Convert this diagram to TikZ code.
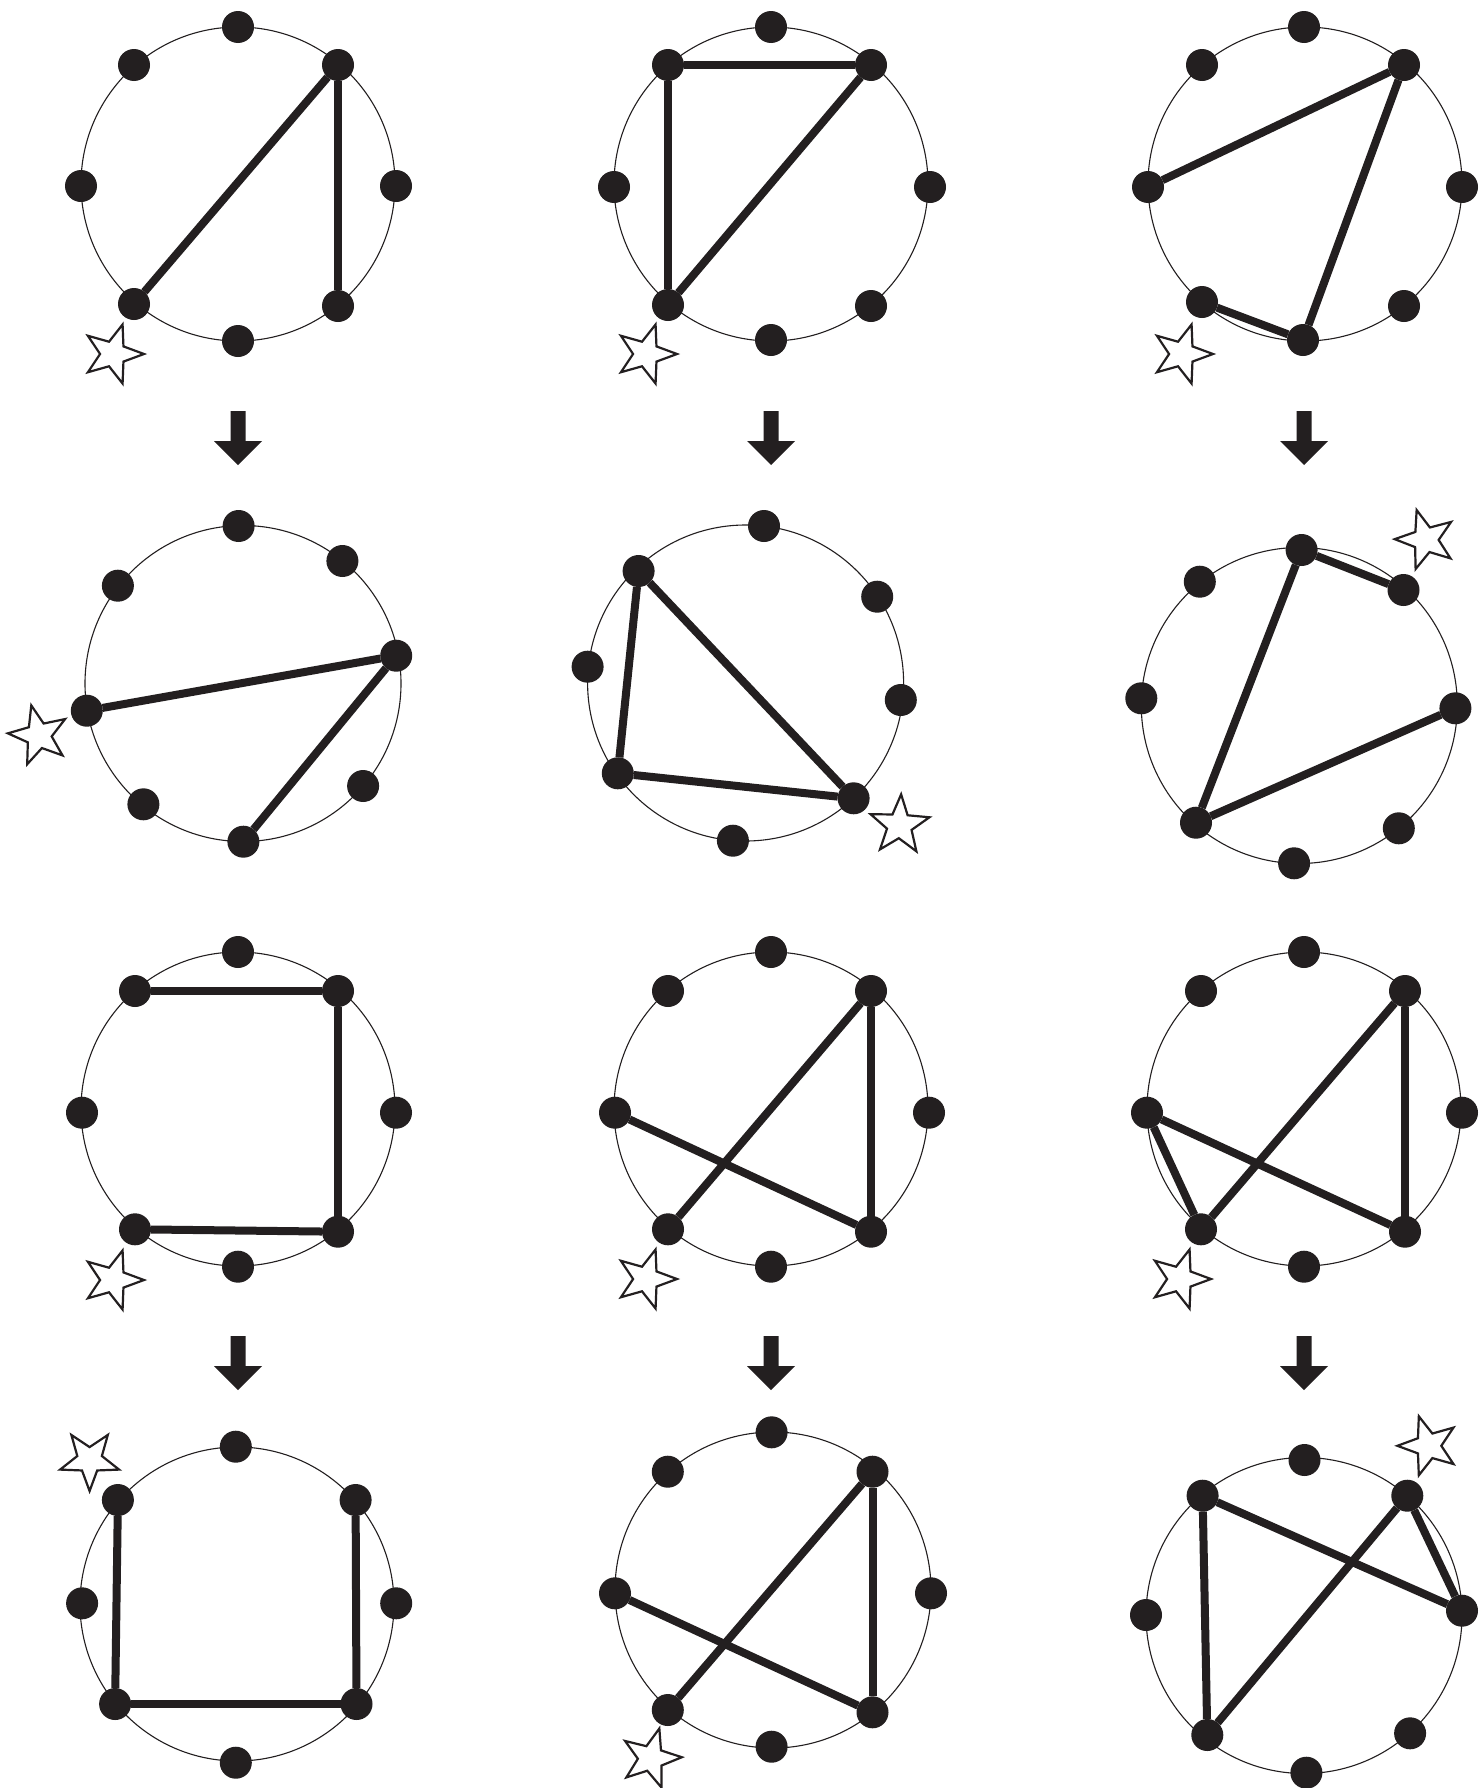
\documentclass[tikz,border=0pt]{standalone}
\usetikzlibrary{shapes.geometric}
\definecolor{ink}{HTML}{231F20}
\tikzset{
  dot/.style={circle, fill=ink, draw=none, minimum size=32pt, inner sep=0pt, outer sep=0pt},
  ringline/.style={draw=ink, line width=1.1pt},
  edgeline/.style={draw=ink, line width=8pt},
  starmark/.style={star, star points=5, star point ratio=2.4, minimum size=62pt, inner sep=0pt, draw=ink, line width=2.2pt, fill=white},
}
\newcommand\blockdown[2]{\fill[ink] (#1-7.5,#2) -- (#1+7.5,#2) -- (#1+7.5,#2+30) -- (#1+24,#2+30) -- (#1,#2+54) -- (#1-24,#2+30) -- (#1-7.5,#2+30) -- cycle;}
\begin{document}
\begin{tikzpicture}[x=1pt,y=-1pt]
\useasboundingbox (0,0) rectangle (1479,1788);
\fill[white] (0,0) rectangle (1479,1788);

% ---------- Row 1, col 1
\draw[ringline] (238,184) circle[radius=157];
\node[dot] (a-t) at (238,27) {};
\node[dot] (a-tl) at (134,65) {};
\node[dot] (a-tr) at (338,65) {};
\node[dot] (a-l) at (81,186) {};
\node[dot] (a-r) at (396,186) {};
\node[dot] (a-bl) at (134,304) {};
\node[dot] (a-br) at (338,306) {};
\node[dot] (a-b) at (238,341) {};
\draw[edgeline] (a-tr) -- (a-bl);
\draw[edgeline] (a-tr) -- (a-br);
\node[starmark, shape border rotate=-18] (a-s) at (113,354) {};

% ---------- Row 1, col 2
\draw[ringline] (771,184) circle[radius=157];
\node[dot] (b-t) at (771,27) {};
\node[dot] (b-tl) at (668,65) {};
\node[dot] (b-tr) at (871,65) {};
\node[dot] (b-l) at (614,187) {};
\node[dot] (b-r) at (930,187) {};
\node[dot] (b-bl) at (668,305) {};
\node[dot] (b-br) at (871,306) {};
\node[dot] (b-b) at (771,340) {};
\draw[edgeline] (b-tl) -- (b-tr);
\draw[edgeline] (b-tl) -- (b-bl);
\draw[edgeline] (b-tr) -- (b-bl);
\node[starmark, shape border rotate=-18] (b-s) at (646,354) {};

% ---------- Row 1, col 3
\draw[ringline] (1305,184) circle[radius=157];
\node[dot] (c-t) at (1304,27) {};
\node[dot] (c-tl) at (1202,65) {};
\node[dot] (c-tr) at (1404,65) {};
\node[dot] (c-l) at (1148,187) {};
\node[dot] (c-r) at (1462,187) {};
\node[dot] (c-bl) at (1202,302) {};
\node[dot] (c-br) at (1404,306) {};
\node[dot] (c-b) at (1303,340) {};
\draw[edgeline] (c-tr) -- (c-l);
\draw[edgeline] (c-tr) -- (c-b);
\draw[edgeline] (c-bl) -- (c-b);
\node[starmark, shape border rotate=-18] (c-s) at (1182,354) {};

% ---------- arrows row 1
\blockdown{238}{411}
\blockdown{771}{411}
\blockdown{1304}{411}

% ---------- Row 2, col 1
\draw[ringline] (243,683.5) circle[radius=158];
\node[dot] (d-t) at (238.6,526) {};
\node[dot] (d-tr) at (342.4,561) {};
\node[dot] (d-tl) at (117.9,585.7) {};
\node[dot] (d-r) at (396.2,655.7) {};
\node[dot] (d-l) at (86.8,710.7) {};
\node[dot] (d-br) at (363.1,786) {};
\node[dot] (d-bl) at (143.4,804.3) {};
\node[dot] (d-b) at (243.4,841.7) {};
\draw[edgeline] (d-l) -- (d-r);
\draw[edgeline] (d-r) -- (d-b);
\node[starmark, shape border rotate=14] (d-s) at (38.8,735.5) {};

% ---------- Row 2, col 2
\draw[ringline] (745.6,683) circle[radius=158];
\node[dot] (e-t) at (764,526) {};
\node[dot] (e-tl) at (638.6,571) {};
\node[dot] (e-tr) at (877.2,596.7) {};
\node[dot] (e-l) at (587.6,666.7) {};
\node[dot] (e-r) at (900.8,700) {};
\node[dot] (e-bl) at (617.8,773.3) {};
\node[dot] (e-br) at (853.6,798.3) {};
\node[dot] (e-b) at (732.9,840.7) {};
\draw[edgeline] (e-tl) -- (e-bl);
\draw[edgeline] (e-tl) -- (e-br);
\draw[edgeline] (e-bl) -- (e-br);
\node[starmark, shape border rotate=-3] (e-s) at (899.5,825.3) {};

% ---------- Row 2, col 3
\draw[ringline] (1299.3,705.5) circle[radius=158];
\node[dot] (f-t) at (1301.6,550) {};
\node[dot] (f-tr) at (1403.5,590) {};
\node[dot] (f-tl) at (1199.8,581.7) {};
\node[dot] (f-l) at (1141.3,698.3) {};
\node[dot] (f-r) at (1455.4,708.3) {};
\node[dot] (f-bl) at (1196,822.7) {};
\node[dot] (f-br) at (1398.8,828.3) {};
\node[dot] (f-b) at (1294.1,863.3) {};
\draw[edgeline] (f-t) -- (f-tr);
\draw[edgeline] (f-t) -- (f-bl);
\draw[edgeline] (f-bl) -- (f-r);
\node[starmark, shape border rotate=17] (f-s) at (1425.7,539.7) {};

% ---------- Row 3, col 1
\draw[ringline] (238,1109) circle[radius=157];
\node[dot] (g-t) at (238,952) {};
\node[dot] (g-tl) at (135,991) {};
\node[dot] (g-tr) at (338,991) {};
\node[dot] (g-l) at (82,1112.7) {};
\node[dot] (g-r) at (396,1112.7) {};
\node[dot] (g-bl) at (135,1229.3) {};
\node[dot] (g-br) at (338,1231.7) {};
\node[dot] (g-b) at (238,1266.7) {};
\draw[edgeline] (g-tl) -- (g-tr);
\draw[edgeline] (g-tr) -- (g-br);
\draw[edgeline] (g-bl) -- (g-br);
\node[starmark, shape border rotate=-18] (g-s) at (113,1280) {};

% ---------- Row 3, col 2
\draw[ringline] (771,1109) circle[radius=157];
\node[dot] (h-t) at (771,952) {};
\node[dot] (h-tl) at (668,991) {};
\node[dot] (h-tr) at (871,991) {};
\node[dot] (h-l) at (615,1112.7) {};
\node[dot] (h-r) at (929,1112.7) {};
\node[dot] (h-bl) at (668,1229.3) {};
\node[dot] (h-br) at (871,1231.7) {};
\node[dot] (h-b) at (771,1266.7) {};
\draw[edgeline] (h-tr) -- (h-bl);
\draw[edgeline] (h-tr) -- (h-br);
\draw[edgeline] (h-l) -- (h-br);
\node[starmark, shape border rotate=-18] (h-s) at (646,1279) {};

% ---------- Row 3, col 3
\draw[ringline] (1304,1109) circle[radius=157];
\node[dot] (i-t) at (1304,952) {};
\node[dot] (i-tl) at (1201,991) {};
\node[dot] (i-tr) at (1405,991) {};
\node[dot] (i-l) at (1147,1112.7) {};
\node[dot] (i-r) at (1462,1112.7) {};
\node[dot] (i-bl) at (1201,1229.3) {};
\node[dot] (i-br) at (1405,1231.7) {};
\node[dot] (i-b) at (1304,1266.7) {};
\draw[edgeline] (i-tr) -- (i-bl);
\draw[edgeline] (i-tr) -- (i-br);
\draw[edgeline] (i-l) -- (i-br);
\draw[edgeline] (i-l) -- (i-bl);
\node[starmark, shape border rotate=-18] (i-s) at (1180,1279) {};

% ---------- arrows row 3
\blockdown{238}{1336}
\blockdown{771}{1336}
\blockdown{1304}{1336}

% ---------- Row 4, col 1
\draw[ringline] (237,1604) circle[radius=157];
\node[dot] (j-t) at (235.8,1446.7) {};
\node[dot] (j-tl) at (117.9,1500) {};
\node[dot] (j-tr) at (355.6,1500) {};
\node[dot] (j-l) at (82.1,1603.3) {};
\node[dot] (j-r) at (396.2,1603.3) {};
\node[dot] (j-bl) at (115.1,1704) {};
\node[dot] (j-br) at (356.5,1704) {};
\node[dot] (j-b) at (235.8,1762.7) {};
\draw[edgeline] (j-tl) -- (j-bl);
\draw[edgeline] (j-bl) -- (j-br);
\draw[edgeline] (j-tr) -- (j-br);
\node[starmark, shape border rotate=36] (j-s) at (89.6,1460) {};

% ---------- Row 4, col 2
\draw[ringline] (773,1590) circle[radius=158];
\node[dot] (k-t) at (771.6,1432.3) {};
\node[dot] (k-tl) at (667.8,1471.7) {};
\node[dot] (k-tr) at (872.5,1471.7) {};
\node[dot] (k-l) at (615,1593.3) {};
\node[dot] (k-r) at (931,1593.3) {};
\node[dot] (k-bl) at (667.8,1710) {};
\node[dot] (k-br) at (872.5,1712.3) {};
\node[dot] (k-b) at (771.6,1746.7) {};
\draw[edgeline] (k-tr) -- (k-bl);
\draw[edgeline] (k-tr) -- (k-br);
\draw[edgeline] (k-l) -- (k-br);
\node[starmark, shape border rotate=-16] (k-s) at (650.8,1758.3) {};

% ---------- Row 4, col 3
\draw[ringline] (1304,1615.5) circle[radius=158];
\node[dot] (l-t) at (1304.5,1460) {};
\node[dot] (l-tl) at (1202.6,1495.7) {};
\node[dot] (l-tr) at (1407.3,1495.7) {};
\node[dot] (l-l) at (1146,1615) {};
\node[dot] (l-r) at (1462,1610.7) {};
\node[dot] (l-bl) at (1207.3,1735) {};
\node[dot] (l-br) at (1410.1,1733.3) {};
\node[dot] (l-b) at (1306.4,1772.7) {};
\draw[edgeline] (l-tl) -- (l-r);
\draw[edgeline] (l-tr) -- (l-r);
\draw[edgeline] (l-tr) -- (l-bl);
\draw[edgeline] (l-tl) -- (l-bl);
\node[starmark, shape border rotate=18] (l-s) at (1428.4,1445.8) {};
\end{tikzpicture}
\end{document}
